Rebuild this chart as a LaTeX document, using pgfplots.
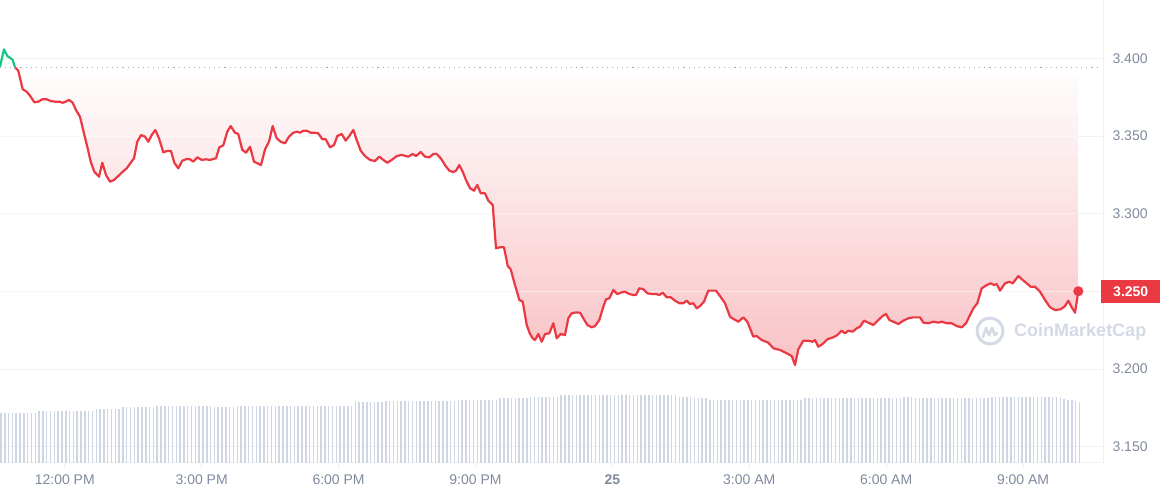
\documentclass[border=0pt]{standalone}
\usepackage{pgfplots}
\pgfplotsset{compat=1.18}
\usepgfplotslibrary{fillbetween}
\usetikzlibrary{calc}
\usepackage{pgfplotstable}
\usepackage{fontspec}
\setmainfont{Liberation Sans}
\definecolor{cmcred}{HTML}{EA3943}
\definecolor{cmcgreen}{HTML}{16C784}
\definecolor{cmcgray}{HTML}{808A9D}
\definecolor{cmcgrid}{HTML}{EFF1F4}
\definecolor{cmcvol}{HTML}{CFD6E4}
\definecolor{cmcwm}{HTML}{D3D9E5}
\definecolor{cmcdot}{HTML}{A7ABB3}

% time in hours since 00:00 on the 24th, price in USD
\pgfplotstableread{
h v
10.580 3.3946
10.668 3.4058
10.740 3.4015
10.814 3.4000
10.858 3.3989
10.909 3.3942
}\greendata

\pgfplotstableread{
h v
10.909 3.3942
10.981 3.3920
11.077 3.3801
11.165 3.3785
11.253 3.3753
11.332 3.3717
11.419 3.3721
11.507 3.3736
11.603 3.3736
11.691 3.3725
11.785 3.3721
11.880 3.3721
11.954 3.3714
12.020 3.3721
12.092 3.3732
12.173 3.3714
12.246 3.3667
12.333 3.3624
12.421 3.3517
12.493 3.3431
12.568 3.3335
12.647 3.3270
12.750 3.3238
12.822 3.3328
12.903 3.3249
12.991 3.3206
13.078 3.3217
13.173 3.3243
13.269 3.3270
13.357 3.3292
13.444 3.3328
13.517 3.3357
13.589 3.3463
13.670 3.3506
13.758 3.3496
13.830 3.3463
13.904 3.3506
13.983 3.3539
14.064 3.3485
14.159 3.3395
14.246 3.3404
14.327 3.3404
14.400 3.3328
14.487 3.3292
14.575 3.3341
14.671 3.3352
14.744 3.3350
14.816 3.3335
14.904 3.3363
15.000 3.3346
15.094 3.3350
15.182 3.3346
15.314 3.3357
15.386 3.3427
15.474 3.3440
15.561 3.3528
15.636 3.3564
15.730 3.3521
15.802 3.3513
15.890 3.3410
15.971 3.3393
16.059 3.3431
16.146 3.3335
16.300 3.3313
16.388 3.3414
16.475 3.3463
16.556 3.3564
16.644 3.3485
16.732 3.3463
16.826 3.3453
16.913 3.3496
17.008 3.3521
17.095 3.3528
17.154 3.3521
17.227 3.3534
17.301 3.3534
17.389 3.3521
17.483 3.3521
17.556 3.3517
17.643 3.3479
17.718 3.3479
17.812 3.3427
17.900 3.3442
17.972 3.3500
18.068 3.3513
18.156 3.3470
18.235 3.3500
18.323 3.3539
18.397 3.3474
18.485 3.3405
18.579 3.3371
18.689 3.3346
18.798 3.3339
18.892 3.3367
18.980 3.3346
19.068 3.3328
19.164 3.3346
19.274 3.3371
19.383 3.3378
19.528 3.3367
19.624 3.3384
19.697 3.3371
19.800 3.3397
19.894 3.3367
19.988 3.3363
20.076 3.3384
20.150 3.3384
20.238 3.3357
20.332 3.3313
20.426 3.3277
20.514 3.3268
20.573 3.3277
20.645 3.3313
20.720 3.3270
20.792 3.3217
20.880 3.3164
20.968 3.3148
21.040 3.3185
21.115 3.3131
21.209 3.3131
21.281 3.3084
21.378 3.3056
21.450 3.2777
21.538 3.2784
21.625 3.2784
21.706 3.2664
21.772 3.2642
21.866 3.2541
21.961 3.2445
22.035 3.2434
22.123 3.2284
22.195 3.2226
22.254 3.2198
22.304 3.2187
22.377 3.2226
22.451 3.2176
22.524 3.2226
22.618 3.2230
22.706 3.2295
22.780 3.2198
22.868 3.2226
22.962 3.2219
23.034 3.2327
23.109 3.2359
23.203 3.2365
23.291 3.2363
23.363 3.2327
23.451 3.2284
23.547 3.2269
23.620 3.2277
23.714 3.2316
23.802 3.2402
23.861 3.2449
23.933 3.2456
24.021 3.2509
24.108 3.2483
24.183 3.2492
24.277 3.2498
24.371 3.2483
24.459 3.2477
24.518 3.2477
24.590 3.2520
24.678 3.2514
24.766 3.2488
24.862 3.2483
24.956 3.2483
25.029 3.2477
25.103 3.2492
25.191 3.2462
25.278 3.2462
25.373 3.2440
25.467 3.2424
25.555 3.2424
25.629 3.2440
25.701 3.2419
25.774 3.2424
25.848 3.2391
25.921 3.2406
26.008 3.2434
26.102 3.2505
26.199 3.2505
26.271 3.2505
26.359 3.2470
26.468 3.2424
26.578 3.2337
26.666 3.2321
26.760 3.2305
26.870 3.2333
26.957 3.2305
27.089 3.2209
27.163 3.2213
27.273 3.2187
27.417 3.2170
27.527 3.2134
27.674 3.2123
27.820 3.2102
27.930 3.2084
28.002 3.2026
28.075 3.2128
28.184 3.2183
28.294 3.2183
28.390 3.2176
28.441 3.2187
28.513 3.2144
28.609 3.2162
28.710 3.2192
28.842 3.2205
28.930 3.2219
29.026 3.2247
29.098 3.2230
29.171 3.2247
29.267 3.2241
29.355 3.2263
29.427 3.2273
29.515 3.2312
29.609 3.2299
29.719 3.2284
29.828 3.2316
29.925 3.2342
29.997 3.2355
30.070 3.2316
30.157 3.2305
30.267 3.2290
30.377 3.2312
30.486 3.2327
30.596 3.2333
30.742 3.2333
30.815 3.2299
30.924 3.2295
31.034 3.2305
31.143 3.2299
31.218 3.2305
31.327 3.2295
31.437 3.2295
31.546 3.2277
31.656 3.2269
31.750 3.2295
31.838 3.2348
31.910 3.2391
31.998 3.2424
32.094 3.2520
32.204 3.2541
32.291 3.2552
32.364 3.2541
32.423 3.2548
32.495 3.2505
32.605 3.2552
32.699 3.2562
32.774 3.2552
32.896 3.2599
32.993 3.2573
33.080 3.2552
33.168 3.2530
33.262 3.2530
33.372 3.2498
33.481 3.2445
33.591 3.2398
33.700 3.2380
33.825 3.2385
33.920 3.2406
33.992 3.2440
34.066 3.2398
34.139 3.2363
34.211 3.2501
}\reddata

% volume per 5-minute interval (relative scale)
\pgfplotstableread{
vol
50
50
50
50
50
50
50
50
50
50
52
52
52
52
52
52
52
52
52
52
52
52
52
52
52
54
54
54
54
54
54
54
56
56
56
56
56
56
56
56
56
57
57
57
57
57
57
57
57
57
57
57
57
57
57
57
56
56
56
56
56
56
57
57
57
57
57
57
57
57
57
57
57
57
57
57
57
57
57
57
57
57
57
57
57
57
57
57
57
57
57
57
57
61
61
61
61
61
61
61
61
62
62
62
62
62
62
62
62
62
62
62
62
62
62
62
62
62
62
62
63
63
63
63
63
63
63
63
63
63
63
64.5
64.5
64.5
64.5
64.5
64.5
64.5
64.5
66
66
66
66
66
66
66
66
67.5
67.5
67.5
67.5
67.5
67.5
67.5
67.5
67.5
67.5
67.5
67.5
67.5
67.5
67.5
67.5
67.5
67.5
67.5
67.5
67.5
67.5
67.5
67.5
67.5
67.5
67.5
67.5
67.5
67.5
67.5
66
66
66
66
64.5
64.5
64.5
64.5
62.5
62.5
62.5
62.5
62.5
62.5
62.5
62.5
62.5
62.5
62.5
62.5
62.5
62.5
62.5
62.5
62.5
62.5
62.5
62.5
62.5
62.5
62.5
62.5
62.5
65
65
65
65
65
65
65
65
65
65
65
65
65
65
65
65
65
65
65
65
65
65
65
65
65
65
66
66
66
65
65
65
65
65
65
65
65
65
65
65
65
65
65
65
65
65
65
65
65
66
66
66
66
66
66
66
66
66
66
66
66
66
66
66
66
66
66
66
64
63
63
62
61
}\voldata

\begin{document}
\begin{tikzpicture}
% volume bars
\begin{axis}[at={(0pt,32pt)}, anchor=south west, scale only axis,
  width=1103pt, height=463pt, xmin=-0.26, xmax=289.2, ymin=0, ymax=463,
  hide axis]
\addplot[ycomb, draw=cmcvol, line width=1.5pt, mark=none]
  table[x expr=\coordindex, y=vol] {\voldata};
\end{axis}
% price
\begin{axis}[at={(0pt,32pt)}, anchor=south west, scale only axis,
  width=1103pt, height=463pt, clip=false,
  xmin=10.58, xmax=34.752, ymin=3.13958, ymax=3.43752,
  axis x line*=bottom, axis y line*=right,
  axis line style={draw=cmcgrid, line width=1pt},
  ytick={3.15,3.2,3.3,3.35,3.4},
  yticklabels={3.150,3.200,3.300,3.350,3.400},
  extra y ticks={3.25}, extra y tick labels={3.250},
  extra y tick style={tick label style={fill=cmcred, text=white,
     font=\fontsize{14}{16}\selectfont\bfseries, inner xsep=12pt,
     minimum height=23pt, xshift=-8pt}},
  xtick={12,15,18,21,24,27,30,33},
  xticklabels={12:00 PM,3:00 PM,6:00 PM,9:00 PM,\textbf{25},3:00 AM,6:00 AM,9:00 AM},
  tick align=outside, major tick length=6pt,
  xtick style={draw=cmcgrid, line width=1pt}, ytick style={draw=none},
  ymajorgrids, major grid style={draw=cmcgrid, line width=1pt},
  tick label style={font=\fontsize{14}{16}\selectfont, text=cmcgray},
  xticklabel style={yshift=-2pt},
]
\addplot[draw=none, name path=base, forget plot] coordinates {(10.909,3.3942) (34.211,3.3942)};
\addplot[draw=none, name path=price, forget plot] table[x=h, y=v] {\reddata};
% area between price and opening price, vertical gradient made of solid bands
\addplot[draw=none, fill=cmcred!1, path picture={
    \foreach \i in {0,...,29}{
      \pgfmathtruncatemacro{\p}{\i+1}
      \fill[cmcred!\p] ($(path picture bounding box.north west)!\i/30!(path picture bounding box.south west)$)
        rectangle ([yshift=-1pt]path picture bounding box.south east);
    }}] fill between[of=price and base];
\addplot[draw=white, draw opacity=0.45, line width=1pt, forget plot] coordinates {(10.58,3.35) (34.211,3.35)};
\addplot[draw=white, draw opacity=0.45, line width=1pt, forget plot] coordinates {(10.58,3.30) (34.211,3.30)};
\addplot[draw=white, draw opacity=0.45, line width=1pt, forget plot] coordinates {(10.58,3.25) (34.211,3.25)};
\addplot[draw=cmcdot, line width=1.1pt, dash pattern=on 1.1pt off 4pt] coordinates {(10.58,3.3942) (34.70,3.3942)};
% watermark
\node[anchor=west, inner sep=0pt, text=cmcwm, font=\fontsize{18}{20}\selectfont\bfseries]
  at (axis cs:32.802,3.2239) {CoinMarketCap};
\draw[cmcwm, line width=3pt] (axis cs:32.276,3.2245) circle[radius=13pt];
\draw[cmcwm, line width=2.6pt, line join=round, line cap=round]
  ([xshift=-7pt,yshift=-6pt]axis cs:32.276,3.2245) -- ++(3pt,9pt) -- ++(3pt,-7pt) -- ++(3pt,7pt) -- ++(3pt,-7pt) -- ++(2pt,2pt);
\addplot[draw=cmcred, line width=2.2pt, line join=round, mark=none] table[x=h, y=v] {\reddata};
\addplot[draw=cmcgreen, line width=2.2pt, line join=round, mark=none] table[x=h, y=v] {\greendata};
\addplot[only marks, mark=*, mark size=4.8pt, cmcred] coordinates {(34.211,3.2501)};
\end{axis}
\pgfresetboundingbox
\useasboundingbox (0,0) rectangle (1161pt,495pt);
\end{tikzpicture}
\end{document}
